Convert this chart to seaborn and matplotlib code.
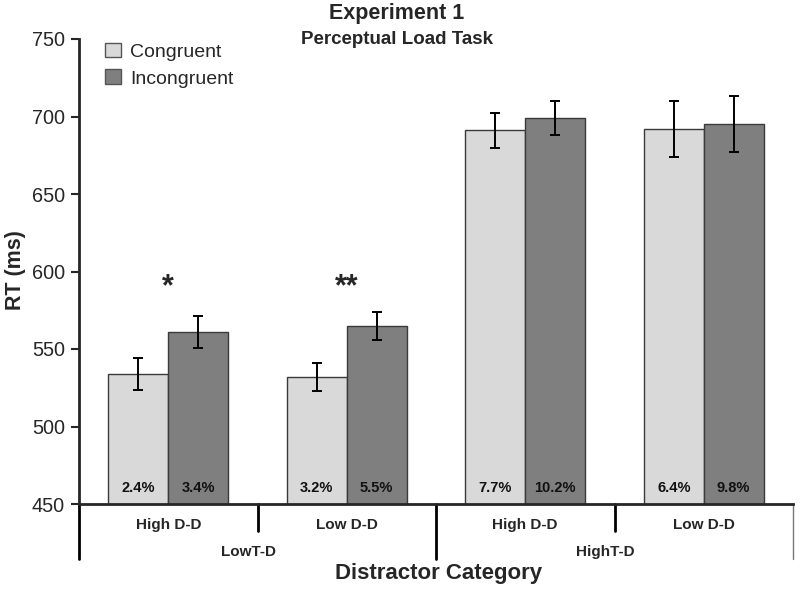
import pandas as pd
import numpy as np
import matplotlib
matplotlib.use('Agg')
import matplotlib.pyplot as plt
import matplotlib.transforms as mtransforms
import seaborn as sns

# 数据
load_groups = ['LowT-D', 'HighT-D']
dd_labels = ['High D-D', 'Low D-D', 'High D-D', 'Low D-D']
conditions = ['Congruent', 'Incongruent']
congruent_rt = [534, 532, 691, 692]
incongruent_rt = [561, 565, 699, 695]
congruent_se = [10.5, 9, 11.5, 18]
incongruent_se = [10.5, 9, 11, 18]
congruent_pct = ['2.4%', '3.2%', '7.7%', '6.4%']
incongruent_pct = ['3.4%', '5.5%', '10.2%', '9.8%']
stars = ['*', '**', '', '']

cells = [f'{load_groups[i // 2]} {dd_labels[i]}' for i in range(4)]
df = pd.DataFrame({
    'cell': cells * 2,
    'cond': ['Congruent'] * 4 + ['Incongruent'] * 4,
    'rt': congruent_rt + incongruent_rt,
})
se = {'Congruent': congruent_se, 'Incongruent': incongruent_se}
pct = {'Congruent': congruent_pct, 'Incongruent': incongruent_pct}

sns.set_style('ticks')
plt.rcParams['font.family'] = ['Liberation Sans', 'DejaVu Sans']

fig = plt.figure(figsize=(8, 5.92), dpi=100)
ax = fig.add_axes([79 / 800, 1 - 504 / 592, 714 / 800, 465 / 592])

palette = {'Congruent': '#d9d9d9', 'Incongruent': '#7f7f7f'}
sns.barplot(data=df, x='cell', y='rt', hue='cond', order=cells, hue_order=conditions,
            palette=palette, width=0.67, edgecolor='#3a3a3a', linewidth=1.0,
            errorbar=None, ax=ax)

ax.set_ylim(450, 750)
ax.set_xlim(-0.5, 3.5)
ax.set_yticks(np.arange(450, 751, 50))
ax.tick_params(axis='y', labelsize=14.3, length=6, width=1.5, direction='out', pad=4)
ax.tick_params(axis='x', length=0, labelsize=11, pad=10)
ax.set_xticks(range(4))
ax.set_xticklabels(dd_labels, fontweight='bold')
ax.set_xlabel('')
ax.set_ylabel('')
for s in ['top', 'right']:
    ax.spines[s].set_visible(False)
ax.spines['left'].set_linewidth(2)
ax.spines['bottom'].set_linewidth(2)

# 误差线和错误率
for cont, cond in zip(ax.containers, conditions):
    for i, bar in enumerate(cont):
        cx = bar.get_x() + bar.get_width() / 2
        top = bar.get_height()
        ax.errorbar(cx, top, yerr=se[cond][i], fmt='none', ecolor='black',
                    elinewidth=1.4, capsize=3.5, capthick=1.4)
        ax.text(cx, 460, pct[cond][i], ha='center', va='center',
                fontsize=10.5, fontweight='bold', color='#111111')

# 显著性标记
for i, s in enumerate(stars):
    if s:
        ax.text(i, 590, s, ha='center', va='center', fontsize=22, fontweight='bold')

# 分组括线
trans = mtransforms.blended_transform_factory(ax.transData, ax.transAxes)
for xpos in [-0.5, 1.5]:
    ax.plot([xpos, xpos], [0, -55 / 465], color='black', lw=2, transform=trans, clip_on=False)
ax.plot([3.5, 3.5], [0, -55 / 465], color='#777777', lw=1, transform=trans, clip_on=False)
for xpos in [0.5, 2.5]:
    ax.plot([xpos, xpos], [0, -27 / 465], color='black', lw=2, transform=trans, clip_on=False)
for j, g in enumerate(load_groups):
    ax.text(2 * j + 0.45, -48 / 465, g, ha='center', va='center', transform=trans,
            fontsize=11, fontweight='bold')

# 图例
leg = ax.legend(loc='upper left', bbox_to_anchor=(0.012, 1.03), frameon=False,
                fontsize=14, handlelength=0.8, handleheight=0.8, handletextpad=0.5,
                labelspacing=0.45)
for h in leg.legend_handles:
    h.set_edgecolor('#555555')

fig.text(0.496, 1 - 13 / 592, 'Experiment 1', ha='center', va='center',
         fontsize=15.5, fontweight='bold')
fig.text(0.496, 1 - 39 / 592, 'Perceptual Load Task', ha='center', va='center',
         fontsize=13.5, fontweight='bold')
fig.text(15 / 800, 1 - 270 / 592, 'RT (ms)', ha='center', va='center', rotation=90,
         fontsize=15.5, fontweight='bold')
fig.text(0.548, 1 - 573 / 592, 'Distractor Category', ha='center', va='center',
         fontsize=16, fontweight='bold')

fig.savefig('out.png', dpi=100)
